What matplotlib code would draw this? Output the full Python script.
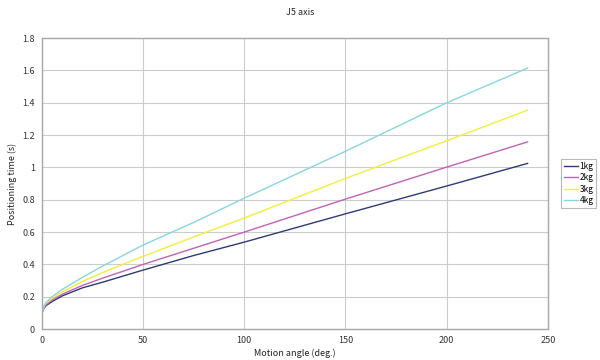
import matplotlib
matplotlib.use("Agg")
import matplotlib.pyplot as plt

plt.rcParams['font.family'] = ['Noto Sans CJK JP', 'DejaVu Sans']

# motion angle (deg.)
angle = [0, 1, 2, 5, 10, 20, 30, 50, 75, 100, 150, 200, 240]

# positioning time (s) per payload
t_1kg = [0.10, 0.13, 0.145, 0.17, 0.205, 0.255, 0.29, 0.365, 0.455, 0.538, 0.713, 0.885, 1.025]
t_2kg = [0.10, 0.135, 0.15, 0.18, 0.215, 0.27, 0.315, 0.40, 0.50, 0.60, 0.804, 1.002, 1.158]
t_3kg = [0.10, 0.14, 0.16, 0.19, 0.23, 0.295, 0.35, 0.45, 0.57, 0.687, 0.932, 1.165, 1.354]
t_4kg = [0.10, 0.145, 0.165, 0.20, 0.245, 0.32, 0.39, 0.52, 0.66, 0.81, 1.10, 1.40, 1.615]

labels = ["1kg", "2kg", "3kg", "4kg"]
colors = ["#2e3a78", "#c262b4", "#f2ee3a", "#86d6e2"]

fig = plt.figure(figsize=(6, 3.6), dpi=100)
ax = fig.add_axes([0.07, 0.086, 0.843, 0.808])

for ys, lab, col in zip([t_1kg, t_2kg, t_3kg, t_4kg], labels, colors):
    ax.plot(angle, ys, color=col, lw=1.0, label=lab)

ax.set_xlim(0, 250)
ax.set_ylim(0, 1.8)
ax.set_xticks([0, 50, 100, 150, 200, 250])
ax.set_yticks([0, 0.2, 0.4, 0.6, 0.8, 1, 1.2, 1.4, 1.6, 1.8])
ax.set_yticklabels(["0", "0.2", "0.4", "0.6", "0.8", "1", "1.2", "1.4", "1.6", "1.8"])
ax.grid(True, color="#cccccc", lw=0.8)
ax.set_axisbelow(True)
for s in ax.spines.values():
    s.set_color("#a8a8a8")
    s.set_linewidth(1.0)
ax.tick_params(length=0, labelsize=6.5, colors="#333333", pad=5)

ax.set_xlabel("Motion angle (deg.)", fontsize=6.5, color="#222222", labelpad=3)
ax.set_ylabel("Positioning time (s)", fontsize=6.5, color="#222222", labelpad=4)
fig.text(0.5, 0.965, "J5 axis", ha="center", va="center", fontsize=6.5, color="#222222")

leg = fig.legend(loc="upper left", bbox_to_anchor=(0.935, 0.558), fontsize=6,
                 frameon=True, fancybox=False, handlelength=1.7, handletextpad=0.2,
                 borderpad=0.3, labelspacing=0.3, borderaxespad=0)
leg.get_frame().set_edgecolor("#a8a8a8")
leg.get_frame().set_linewidth(0.8)

fig.savefig("out.png", dpi=100)
